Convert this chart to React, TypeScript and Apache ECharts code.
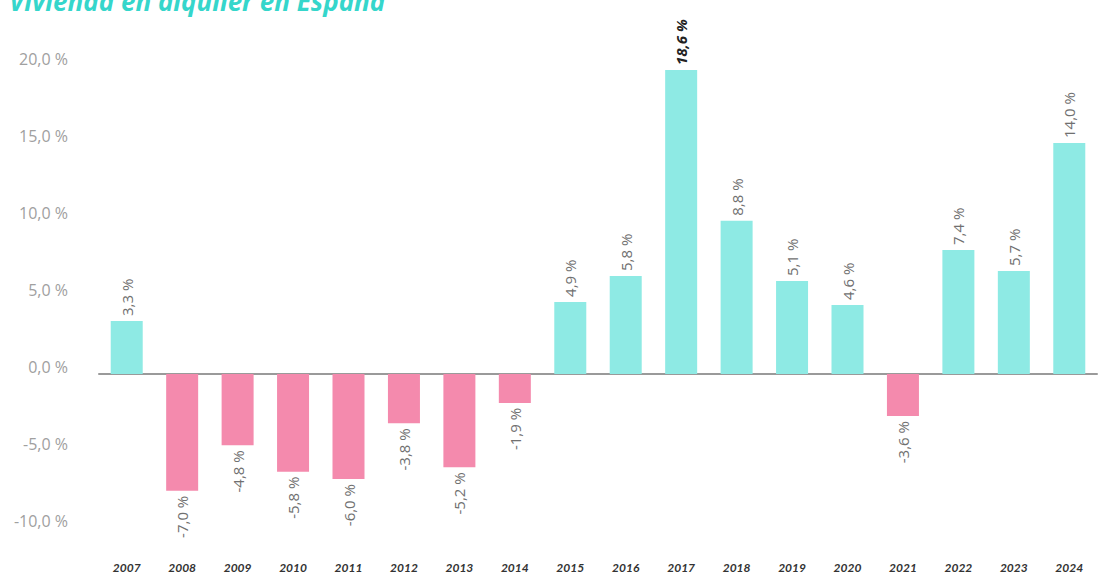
import React, { useEffect, useRef } from "react";
import * as echarts from "echarts";

const years = ["2007","2008","2009","2010","2011","2012","2013","2014","2015","2016","2017","2018","2019","2020","2021","2022","2023","2024"];
const barValues = [3.44,-7.58,-4.63,-6.34,-6.82,-3.2,-6.06,-1.88,4.68,6.36,19.74,9.95,6.04,4.48,-2.73,8.05,6.69,15.0];
const valueLabels = ["3,3 %","-7,0 %","-4,8 %","-5,8 %","-6,0 %","-3,8 %","-5,2 %","-1,9 %","4,9 %","5,8 %","18,6 %","8,8 %","5,1 %","4,6 %","-3,6 %","7,4 %","5,7 %","14,0 %"];
const highlightYear = "2017";
const titleText = "Vivienda en alquiler en España";

const TEAL = "#8EEAE4";
const PINK = "#F48AAD";

export default function App() {
  const ref = useRef<HTMLDivElement>(null);
  useEffect(() => {
    if (!ref.current) return;
    const chart = echarts.init(ref.current, undefined, { renderer: "svg" });
    const data = barValues.map((v, i) => {
      const pos = v >= 0;
      const bold = years[i] === highlightYear;
      return {
        value: v,
        itemStyle: { color: pos ? TEAL : PINK },
        label: {
          show: true,
          position: pos ? "top" : "bottom",
          rotate: 90,
          align: pos ? "left" : "right",
          verticalAlign: "middle",
          distance: 5,
          formatter: valueLabels[i],
          color: bold ? "#222" : "#707070",
          fontWeight: bold ? "bold" : "normal",
          fontStyle: bold ? "italic" : "normal",
          fontSize: 15,
          fontFamily: "Open Sans",
        },
      };
    });
    chart.setOption({
      animation: false,
      title: {
        text: titleText,
        left: 4,
        top: -17,
        textStyle: {
          color: "#35d6cb",
          fontSize: 26,
          fontWeight: "bold",
          fontStyle: "italic",
          fontFamily: "Open Sans",
        },
      },
      grid: { left: 99, right: 12, top: 66, bottom: 46 },
      xAxis: {
        type: "category",
        data: years,
        axisTick: { show: false },
        axisLine: { onZero: true, lineStyle: { color: "#9a9a9a", width: 2 } },
        axisLabel: {
          interval: 0,
          margin: 33,
          color: "#333",
          fontSize: 12,
          fontStyle: "italic",
          fontWeight: "bold",
          fontFamily: "Lato",
        },
      },
      yAxis: {
        type: "value",
        min: -10,
        max: 20,
        interval: 5,
        splitLine: { show: false },
        axisLine: { show: false },
        axisTick: { show: false },
        axisLabel: {
          margin: 31,
          color: "#a0a0a0",
          fontSize: 16,
          fontFamily: "Open Sans",
          verticalAlign: "bottom",
          lineHeight: 14,
          formatter: (v: number) => v.toFixed(1).replace(".", ",") + " %",
        },
      },
      series: [
        {
          type: "bar",
          data,
          barWidth: 32,
        },
      ],
    });
    return () => chart.dispose();
  }, []);
  return <div ref={ref} style={{ width: 1109, height: 574, position: "absolute", left: 0, top: 0 }} />;
}
